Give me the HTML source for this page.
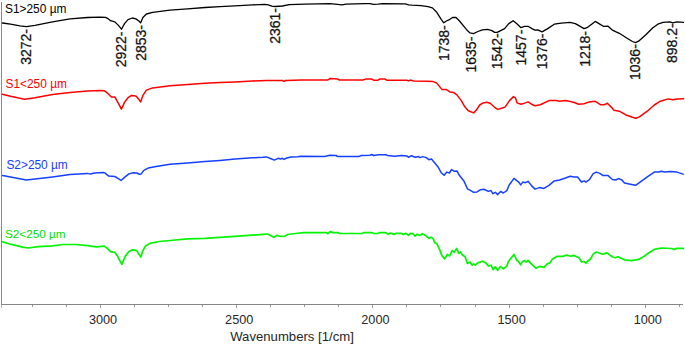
<!DOCTYPE html>
<html><head><meta charset="utf-8"><title>FTIR spectra</title>
<style>
html,body{margin:0;padding:0;background:#fff;}
body{width:685px;height:345px;overflow:hidden;}
svg{display:block;font-family:"Liberation Sans",sans-serif;}
</style></head><body>
<svg width="685" height="345" viewBox="0 0 685 345">
<rect width="685" height="345" fill="#ffffff"/>
<g stroke="#8a8a8a" stroke-width="1" fill="none" shape-rendering="crispEdges"><line x1="1.5" y1="2" x2="1.5" y2="305"/><line x1="1.5" y1="305" x2="1.5" y2="308" stroke="#b4b4b4"/><line x1="1" y1="304.5" x2="683" y2="304.5" stroke="#858585"/><line x1="32.5" y1="305" x2="32.5" y2="307" stroke="#999"/><line x1="66.5" y1="305" x2="66.5" y2="307" stroke="#999"/><line x1="100.5" y1="305" x2="100.5" y2="308" stroke="#999"/><line x1="134.5" y1="305" x2="134.5" y2="307" stroke="#999"/><line x1="168.5" y1="305" x2="168.5" y2="307" stroke="#999"/><line x1="202.5" y1="305" x2="202.5" y2="307" stroke="#999"/><line x1="236.5" y1="305" x2="236.5" y2="308" stroke="#999"/><line x1="270.5" y1="305" x2="270.5" y2="307" stroke="#999"/><line x1="304.5" y1="305" x2="304.5" y2="307" stroke="#999"/><line x1="338.5" y1="305" x2="338.5" y2="307" stroke="#999"/><line x1="372.5" y1="305" x2="372.5" y2="308" stroke="#999"/><line x1="406.5" y1="305" x2="406.5" y2="307" stroke="#999"/><line x1="440.5" y1="305" x2="440.5" y2="307" stroke="#999"/><line x1="475.5" y1="305" x2="475.5" y2="307" stroke="#999"/><line x1="509.5" y1="305" x2="509.5" y2="308" stroke="#999"/><line x1="543.5" y1="305" x2="543.5" y2="307" stroke="#999"/><line x1="577.5" y1="305" x2="577.5" y2="307" stroke="#999"/><line x1="611.5" y1="305" x2="611.5" y2="307" stroke="#999"/><line x1="645.5" y1="305" x2="645.5" y2="308" stroke="#999"/><line x1="679.5" y1="305" x2="679.5" y2="307" stroke="#999"/></g>
<polyline points="2.5,23.0 10.5,24.2 20.0,25.8 26.3,26.6 35.0,25.4 52.5,21.9 70.0,18.9 87.5,17.5 100.0,17.2 105.5,17.3 107.5,18.3 110.5,20.7 114.9,21.9 118.4,25.4 121.5,29.2 124.5,23.6 128.0,19.6 132.4,18.0 135.9,18.9 138.9,21.0 140.6,22.9 142.9,17.5 146.4,14.0 152.5,12.3 170.0,10.2 187.6,8.8 205.0,7.5 220.0,6.6 235.0,5.8 252.5,4.9 264.8,4.4 268.3,4.9 271.8,6.1 275.3,6.5 282.3,6.0 289.3,4.7 305.0,4.2 329.8,3.6 335.0,4.1 342.0,4.9 346.0,4.2 364.8,3.6 370.0,3.6 373.5,4.3 378.0,4.2 382.3,3.6 405.0,3.9 408.8,4.9 412.0,5.2 421.0,5.6 428.0,6.7 432.4,7.9 436.8,12.3 441.2,19.3 443.8,22.8 446.4,21.0 449.9,19.3 452.5,17.5 456.0,17.5 459.5,21.0 463.9,26.3 467.4,30.6 470.0,32.9 473.6,33.6 477.9,31.5 482.3,29.8 487.6,29.4 491.9,30.6 494.6,32.4 497.2,32.4 500.7,30.6 504.6,28.6 508.8,23.6 513.1,20.7 516.6,23.6 521.0,27.7 524.5,26.3 528.0,26.3 532.4,28.9 535.0,30.1 537.7,29.8 542.0,31.9 547.3,28.9 554.3,24.2 561.3,23.1 570.0,22.4 575.3,23.6 580.6,26.6 584.0,28.6 587.6,27.3 591.0,24.7 595.3,21.4 599.0,23.6 603.3,26.3 607.8,26.1 612.0,29.8 615.6,31.6 619.3,33.3 626.3,37.7 632.4,41.5 635.6,42.6 639.4,40.6 645.6,35.0 652.6,28.0 657.8,24.2 663.0,22.4 670.0,21.9 672.7,22.8 677.0,21.9 683.5,22.4" fill="none" stroke="#000000" stroke-width="1.3" stroke-linejoin="round" stroke-linecap="round"/>
<polyline points="2.5,94.2 10.5,96.3 24.5,99.2 35.0,97.7 52.5,94.5 70.0,92.4 87.6,91.0 100.0,90.6 104.4,90.8 107.9,93.4 111.4,97.1 114.9,97.1 118.4,103.3 121.4,109.2 124.5,102.4 128.0,97.7 131.5,95.4 135.9,95.9 138.5,98.9 140.6,101.9 142.9,95.4 146.4,90.1 152.5,87.9 170.0,85.8 187.6,84.4 205.0,83.3 220.0,82.4 235.0,81.9 252.5,81.0 266.5,80.5 282.3,80.5 284.0,81.4 285.8,80.5 301.6,79.9 328.0,80.0 329.8,78.6 337.7,79.1 339.4,80.0 363.0,80.0 365.7,79.1 371.8,79.1 373.6,80.2 378.0,80.2 379.7,79.1 385.0,79.1 386.7,80.2 406.8,80.2 408.6,80.9 410.3,80.1 413.8,80.9 426.3,81.2 433.3,81.6 436.8,83.1 442.0,89.6 446.4,89.6 449.9,91.9 453.4,92.4 456.9,94.9 461.3,100.6 464.8,106.8 468.3,110.8 473.6,112.9 476.2,110.3 479.7,105.0 483.2,102.9 486.7,102.2 490.2,103.3 494.6,107.3 497.7,109.4 501.6,108.2 505.0,107.1 509.5,100.6 513.5,96.6 515.6,98.0 517.0,102.9 521.0,104.2 525.4,102.9 528.0,101.9 531.5,104.2 535.0,105.7 540.3,104.7 549.0,100.6 556.0,100.5 559.5,101.2 565.7,100.6 573.6,102.2 578.8,104.3 584.0,103.8 589.3,101.9 594.8,101.2 600.8,104.8 604.3,104.7 607.4,103.3 611.2,107.1 614.0,110.3 619.3,111.2 625.4,114.7 632.4,117.3 635.9,118.2 639.4,116.9 647.3,111.2 654.3,105.0 660.4,101.2 668.3,98.9 672.7,99.8 677.0,98.9 683.5,98.7" fill="none" stroke="#ff0000" stroke-width="1.5" stroke-linejoin="round" stroke-linecap="round"/>
<polyline points="2.6,175.6 10.5,177.0 26.3,180.0 35.0,179.1 52.5,176.9 70.0,174.4 87.6,173.4 90.2,174.1 94.6,173.0 103.3,172.5 104.8,172.9 108.7,176.1 114.8,176.5 118.4,178.6 121.0,180.5 124.5,177.4 128.9,173.9 133.3,172.7 136.8,173.0 139.4,174.2 141.2,173.9 143.8,170.4 148.2,168.1 156.0,166.4 170.0,164.3 187.6,162.9 205.0,161.6 220.0,160.4 235.0,159.0 252.5,157.8 263.0,157.3 266.5,156.9 271.0,158.7 274.4,160.1 278.0,158.3 280.6,159.0 282.3,158.3 284.0,159.4 286.7,158.0 291.0,156.9 298.0,156.7 300.7,156.3 324.5,156.4 329.8,155.2 336.0,155.5 337.7,156.6 358.7,156.6 361.3,155.5 370.0,155.2 371.8,154.5 373.6,155.5 378.8,154.8 385.8,154.8 387.6,155.5 394.6,156.2 401.6,155.5 406.8,155.9 408.7,157.3 411.3,155.7 415.3,157.3 418.4,156.6 420.0,157.6 422.8,156.6 426.3,157.6 428.9,159.7 431.5,159.0 434.2,162.2 437.7,166.4 441.2,172.7 444.1,175.3 446.9,172.1 449.4,173.0 451.7,169.5 454.3,171.3 456.9,170.9 459.5,175.6 463.9,180.9 467.4,188.8 470.0,190.2 473.6,192.3 477.0,191.9 480.6,189.7 484.0,189.3 488.4,191.4 491.0,190.5 492.8,193.7 495.4,192.3 497.7,194.6 500.6,191.4 503.3,193.0 506.8,190.6 509.2,185.0 514.0,178.4 518.4,181.8 520.7,184.9 522.8,182.1 525.4,182.7 528.0,181.3 531.5,185.6 535.0,189.1 539.4,187.6 543.8,188.4 549.0,185.3 554.3,180.9 559.5,180.0 564.8,178.2 570.2,176.2 574.4,176.9 577.6,177.0 581.5,182.0 584.2,180.9 585.8,182.1 589.4,179.6 593.2,173.6 596.2,172.1 599.8,173.4 603.0,175.6 607.8,175.4 612.4,179.5 615.7,180.0 618.6,178.6 621.9,180.0 624.5,183.0 631.5,184.4 635.6,185.3 639.4,182.7 647.3,176.9 654.3,172.1 658.7,172.0 661.3,171.3 664.8,172.1 670.0,171.6 677.0,172.1 683.2,174.1" fill="none" stroke="#1540ff" stroke-width="1.5" stroke-linejoin="round" stroke-linecap="round"/>
<polyline points="2.6,241.9 10.5,244.2 22.8,247.1 28.0,248.0 38.5,246.6 52.5,245.9 63.0,244.5 75.3,244.5 87.6,245.6 96.3,246.8 104.3,246.1 107.8,248.9 110.4,251.7 114.8,252.4 117.6,256.3 119.5,260.0 121.9,264.3 125.4,255.9 128.9,251.5 132.4,249.8 136.8,250.6 138.9,254.2 140.8,257.1 142.9,250.6 145.5,245.9 150.8,243.1 159.5,241.5 170.0,240.5 187.6,238.9 205.0,238.4 220.0,237.3 235.0,236.3 252.5,235.2 263.0,234.4 267.4,234.0 271.0,235.8 273.6,237.2 277.0,235.4 279.7,236.3 285.0,236.1 287.6,234.5 295.4,233.5 303.5,232.7 326.3,232.6 328.0,233.7 330.0,231.6 333.3,232.6 337.7,232.6 339.4,233.5 362.2,233.5 364.0,232.6 371.8,232.6 373.6,233.5 378.0,233.5 379.7,232.6 385.8,232.6 388.1,234.4 390.2,233.0 393.7,234.4 396.3,233.3 400.7,233.3 403.3,234.4 406.0,233.3 408.5,235.4 410.6,233.3 413.0,233.8 415.1,236.1 417.1,234.2 419.7,235.4 422.4,233.7 426.3,236.1 428.9,238.4 431.2,237.2 433.3,238.9 434.7,242.8 436.8,243.6 439.4,248.9 442.0,255.9 444.7,258.9 447.3,254.5 449.6,255.9 452.2,250.6 454.3,252.4 456.6,248.4 458.7,253.3 460.4,251.9 462.2,254.7 465.1,256.8 467.4,263.4 470.0,262.0 472.2,265.2 473.6,263.8 475.3,265.2 477.9,262.9 482.3,261.2 485.8,262.9 488.4,265.9 491.0,265.2 493.2,269.6 495.4,266.9 497.7,270.3 500.4,266.4 503.3,268.8 506.8,266.1 508.5,261.2 514.0,254.5 516.8,260.3 518.4,261.5 520.7,264.7 522.4,261.7 524.5,260.6 526.3,262.0 528.0,260.3 531.5,264.1 535.9,268.2 539.4,266.4 543.8,267.3 547.3,263.8 549.9,262.9 552.5,258.9 556.9,256.4 563.0,256.4 566.5,255.0 570.7,256.3 573.7,255.4 578.9,257.7 581.7,262.0 584.2,261.5 585.8,263.3 587.5,261.2 590.3,259.2 593.4,253.9 596.3,252.0 602.6,254.2 606.9,252.9 612.2,256.8 615.2,257.8 617.8,256.8 620.5,258.0 624.5,259.8 631.5,260.6 638.6,259.4 642.9,257.1 649.0,252.7 654.3,249.4 661.3,248.0 671.8,248.5 674.5,249.4 677.0,248.4 683.2,248.4" fill="none" stroke="#04f404" stroke-width="1.7" stroke-linejoin="round" stroke-linecap="round"/>
<text x="103.0" y="323.9" text-anchor="middle" font-size="12.7" fill="#262626">3000</text><text x="239.2" y="323.9" text-anchor="middle" font-size="12.7" fill="#262626">2500</text><text x="375.4" y="323.9" text-anchor="middle" font-size="12.7" fill="#262626">2000</text><text x="511.6" y="323.9" text-anchor="middle" font-size="12.7" fill="#262626">1500</text><text x="647.8" y="323.9" text-anchor="middle" font-size="12.7" fill="#262626">1000</text><text x="292" y="341.1" text-anchor="middle" font-size="13.15" fill="#262626">Wavenumbers [1/cm]</text>
<text x="5.0" y="13" font-size="11.9" fill="#000">S1&gt;250 µm</text><text x="5.5" y="88" font-size="11.9" fill="#ff0000">S1&lt;250 µm</text><text x="6.4" y="169" font-size="11.9" fill="#1540ff">S2&gt;250 µm</text><text x="5.0" y="238.4" font-size="11.75" fill="#00e000">S2&lt;250 µm</text>
<text transform="translate(30.8,29) rotate(-90)" text-anchor="end" font-size="14" fill="#111" stroke="#111" stroke-width="0.25">3272-</text><text transform="translate(126.3,31.5) rotate(-90)" text-anchor="end" font-size="14" fill="#111" stroke="#111" stroke-width="0.25">2922-</text><text transform="translate(145.6,25.0) rotate(-90)" text-anchor="end" font-size="14" fill="#111" stroke="#111" stroke-width="0.25">2853-</text><text transform="translate(280,8.0) rotate(-90)" text-anchor="end" font-size="14" fill="#111" stroke="#111" stroke-width="0.25">2361-</text><text transform="translate(449.3,25.3) rotate(-90)" text-anchor="end" font-size="14" fill="#111" stroke="#111" stroke-width="0.25">1738-</text><text transform="translate(476.2,36.7) rotate(-90)" text-anchor="end" font-size="14" fill="#111" stroke="#111" stroke-width="0.25">1635-</text><text transform="translate(502.4,33.4) rotate(-90)" text-anchor="end" font-size="14" fill="#111" stroke="#111" stroke-width="0.25">1542-</text><text transform="translate(525.6,29.7) rotate(-90)" text-anchor="end" font-size="14" fill="#111" stroke="#111" stroke-width="0.25">1457-</text><text transform="translate(546.9,33.5) rotate(-90)" text-anchor="end" font-size="14" fill="#111" stroke="#111" stroke-width="0.25">1376-</text><text transform="translate(590.1,31) rotate(-90)" text-anchor="end" font-size="14" fill="#111" stroke="#111" stroke-width="0.25">1218-</text><text transform="translate(640.0,44.2) rotate(-90)" text-anchor="end" font-size="14" fill="#111" stroke="#111" stroke-width="0.25">1036-</text><text transform="translate(677.2,23.3) rotate(-90)" text-anchor="end" font-size="14" fill="#111" stroke="#111" stroke-width="0.25">898.2-</text>
</svg>
</body></html>
